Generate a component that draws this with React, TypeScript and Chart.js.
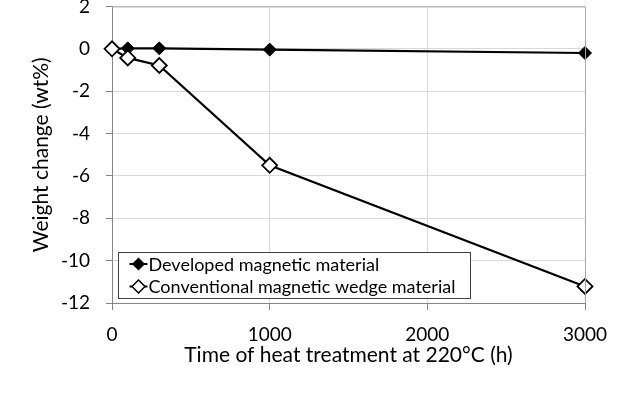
import React, { useEffect, useRef } from "react";
import { Chart, registerables } from "chart.js";

Chart.register(...registerables);

const hours = [0, 100, 300, 1000, 3000];
const developed = [0, 0.02, 0.02, -0.04, -0.2];
const conventional = [0, -0.43, -0.79, -5.5, -11.22];
const seriesLabels = ["Developed magnetic material", "Conventional magnetic wedge material"];
const yTicks = [2, 0, -2, -4, -6, -8, -10, -12];
const xTicks = [0, 1000, 2000, 3000];
const xTitle = "Time of heat treatment at 220°C (h)";
const yTitle = "Weight change (wt%)";

const FONT = "Lato, 'Open Sans', sans-serif";
const SHIFT = 21;

const frameAndLegend = {
  id: "frameAndLegend",
  afterDatasetsDraw(chart: any) {
    const { ctx, chartArea } = chart;
    ctx.save();
    ctx.strokeStyle = "#a6a6a6";
    ctx.lineWidth = 1;
    ctx.beginPath();
    ctx.moveTo(chartArea.left, chartArea.top + 0.5);
    ctx.lineTo(chartArea.right + 0.5, chartArea.top + 0.5);
    ctx.lineTo(chartArea.right + 0.5, chartArea.bottom);
    ctx.stroke();

    const bx = chartArea.left + 6.5;
    const by = chartArea.bottom - 50.5;
    const bw = 352;
    const bh = 46;
    ctx.fillStyle = "#ffffff";
    ctx.fillRect(bx, by, bw, bh);
    ctx.strokeStyle = "#404040";
    ctx.strokeRect(bx, by, bw, bh);

    const rows = [by + 11.5, by + 34];
    chart.data.datasets.forEach((ds: any, i: number) => {
      const y = rows[i];
      const x0 = bx + 11;
      const x1 = bx + 29;
      const cx = (x0 + x1) / 2;
      ctx.strokeStyle = "#000";
      ctx.lineWidth = 2;
      ctx.beginPath();
      ctx.moveTo(x0, y);
      ctx.lineTo(x1, y);
      ctx.stroke();
      const r = i === 0 ? 5.5 : 6.5;
      ctx.beginPath();
      ctx.moveTo(cx, y - r);
      ctx.lineTo(cx + r, y);
      ctx.lineTo(cx, y + r);
      ctx.lineTo(cx - r, y);
      ctx.closePath();
      ctx.fillStyle = i === 0 ? "#000" : "#fff";
      ctx.fill();
      ctx.lineWidth = 1.5;
      ctx.stroke();
      ctx.fillStyle = "#000";
      ctx.font = `18px ${FONT}`;
      ctx.textBaseline = "middle";
      ctx.textAlign = "left";
      ctx.fillText(ds.label, x1 + 1, y + 1);
    });
    ctx.restore();
  },
};

export default function App() {
  const ref = useRef<HTMLCanvasElement>(null);
  useEffect(() => {
    document.body.style.margin = "0";
    const chart = new Chart(ref.current!, {
      type: "line",
      data: {
        datasets: [
          {
            label: seriesLabels[0],
            data: hours.map((h, i) => ({ x: h, y: developed[i] })),
            borderColor: "#000",
            borderWidth: 2.2,
            pointStyle: "rectRot",
            pointRadius: 6.5,
            pointBackgroundColor: "#000",
            pointBorderColor: "#000",
            pointBorderWidth: 1,
            clip: false,
            order: 1,
          },
          {
            label: seriesLabels[1],
            data: hours.map((h, i) => ({ x: h, y: conventional[i] })),
            borderColor: "#000",
            borderWidth: 2.2,
            pointStyle: "rectRot",
            pointRadius: 7.5,
            pointBackgroundColor: "#fff",
            pointBorderColor: "#000",
            pointBorderWidth: 1.8,
            clip: false,
            order: 0,
          },
        ],
      },
      options: {
        responsive: false,
        animation: false,
        events: [],
        layout: { padding: { top: 5, right: 55, left: 0, bottom: 0 } },
        plugins: { legend: { display: false }, tooltip: { enabled: false } },
        scales: {
          x: {
            type: "linear",
            min: 0,
            max: 3000,
            afterBuildTicks: (s: any) => {
              s.ticks = xTicks.map((v) => ({ value: v }));
            },
            afterFit: (s: any) => {
              s.height = 93;
            },
            grid: { color: "#d9d9d9", tickColor: "#868686", tickLength: 7, lineWidth: 1 },
            border: { color: "#868686", width: 1 },
            ticks: {
              color: "#000",
              padding: 13,
              font: { family: FONT, size: 19 },
              maxRotation: 0,
              callback: (v: any) => String(v),
            },
            title: {
              display: true,
              text: xTitle,
              color: "#000",
              font: { family: FONT, size: 21 },
              padding: { top: 0, bottom: 28 },
            },
          },
          y: {
            type: "linear",
            min: -12,
            max: 2,
            afterBuildTicks: (s: any) => {
              s.ticks = yTicks.map((v) => ({ value: v }));
            },
            afterFit: (s: any) => {
              s.width = 112;
            },
            grid: { color: "#d9d9d9", tickColor: "#868686", tickLength: 6, lineWidth: 1 },
            border: { color: "#868686", width: 1 },
            ticks: {
              color: "#000",
              padding: 16,
              font: { family: FONT, size: 19 },
              callback: (v: any) => String(v),
            },
            title: {
              display: true,
              text: yTitle,
              color: "#000",
              font: { family: FONT, size: 21 },
              padding: { top: 29, bottom: 0 },
            },
          },
        },
      },
      plugins: [frameAndLegend],
    });
    return () => chart.destroy();
  }, []);
  return (
    <canvas
      ref={ref}
      width={640}
      height={396 + SHIFT}
      style={{ display: "block", marginTop: -SHIFT }}
    />
  );
}
